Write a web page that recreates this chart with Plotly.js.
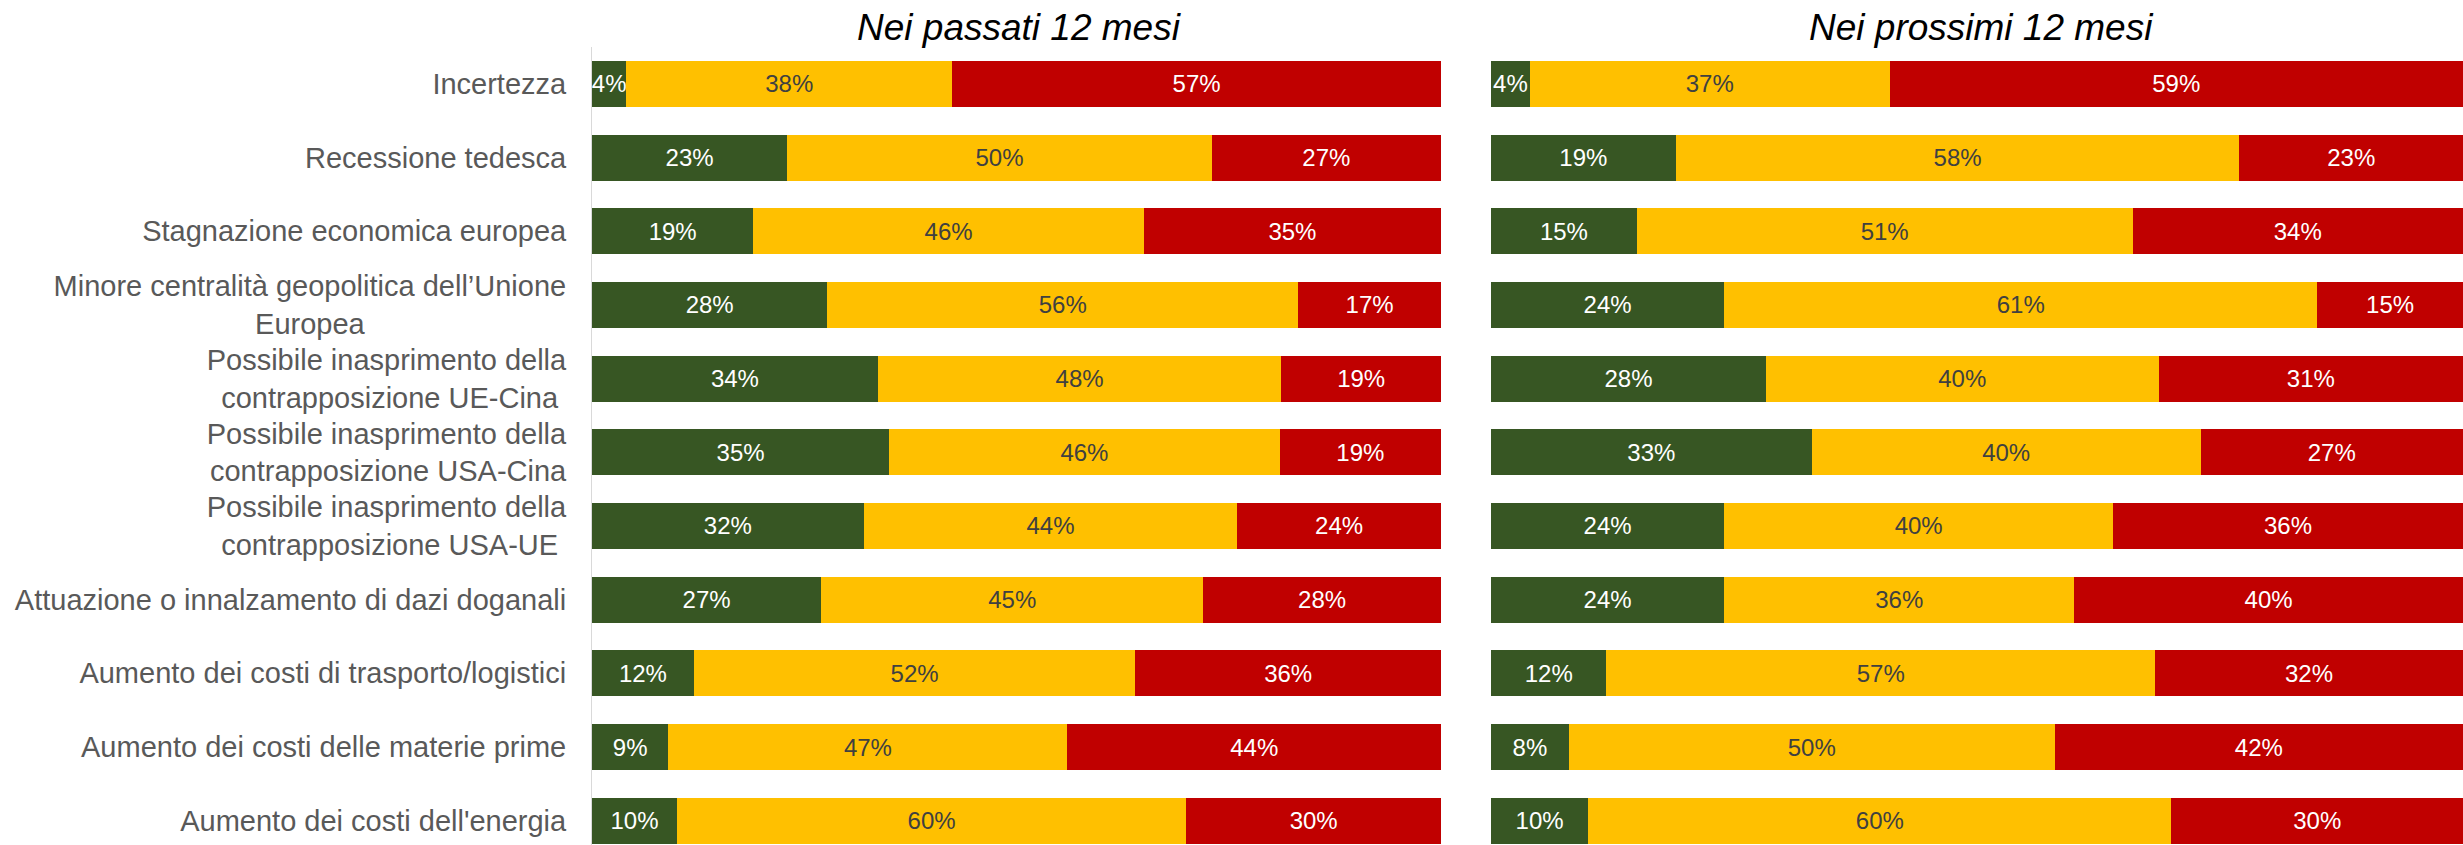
<!DOCTYPE html>
<html>
<head>
<meta charset="utf-8">
<script src="https://cdn.plot.ly/plotly-3.0.1.min.js"></script>
<style>
  html, body { margin: 0; padding: 0; background: #ffffff; }
  #chart { width: 2463px; height: 845px; }
</style>
</head>
<body>
<div id="chart"></div>
<script>
// ---- Data ----
const categories = [
  "Incertezza",
  "Recessione tedesca",
  "Stagnazione economica europea",
  "Minore centralità geopolitica dell’Unione<br>Europea",
  "Possibile inasprimento della<br>contrapposizione UE-Cina",
  "Possibile inasprimento della<br>contrapposizione USA-Cina",
  "Possibile inasprimento della<br>contrapposizione USA-UE",
  "Attuazione o innalzamento di dazi doganali",
  "Aumento dei costi di trasporto/logistici",
  "Aumento dei costi delle materie prime",
  "Aumento dei costi dell'energia"
];

const panelTitles = ["Nei passati 12 mesi", "Nei prossimi 12 mesi"];
const seriesNames = ["Impatto basso", "Impatto medio", "Impatto alto"];

const pastGreen  = [4, 23, 19, 28, 34, 35, 32, 27, 12, 9, 10];
const pastYellow = [38, 50, 46, 56, 48, 46, 44, 45, 52, 47, 60];
const pastRed    = [57, 27, 35, 17, 19, 19, 24, 28, 36, 44, 30];

const nextGreen  = [4, 19, 15, 24, 28, 33, 24, 24, 12, 8, 10];
const nextYellow = [37, 58, 51, 61, 40, 40, 40, 36, 57, 50, 60];
const nextRed    = [59, 23, 34, 15, 31, 27, 36, 40, 32, 42, 30];

// ---- Styling ----
const FONT = "'Liberation Sans', Arial, sans-serif";
const colors = ["#375623", "#FFC000", "#C00000"];
const textColors = ["#ffffff", "#404040", "#ffffff"];
const LABEL_SIZE = 29;

// center shorter lines of multi-line tick labels (like centered text in the original)
function centerLines(label) {
  const ctx = document.createElement('canvas').getContext('2d');
  ctx.font = LABEL_SIZE + "px 'Liberation Sans', Arial, sans-serif";
  const lines = label.split('<br>');
  if (lines.length < 2) return label;
  const ws = lines.map(l => ctx.measureText(l).width);
  const max = Math.max(...ws);
  const sp = ctx.measureText('\u00a0').width;
  return lines.map((l, i) => l + '\u00a0'.repeat(Math.round((max - ws[i]) / 2 / sp))).join('<br>');
}
const tickText = categories.map(centerLines);

function makeTrace(values, idx, xaxis) {
  return {
    type: 'bar',
    orientation: 'h',
    name: seriesNames[idx],
    y: categories,
    x: values,
    xaxis: xaxis,
    yaxis: 'y',
    text: values,
    texttemplate: '%{text}%',
    textposition: 'inside',
    insidetextanchor: 'middle',
    constraintext: 'none',
    textangle: 0,
    insidetextfont: { family: FONT, size: 24, color: textColors[idx] },
    marker: { color: colors[idx], line: { width: 0 } },
    hoverinfo: 'none',
    showlegend: false
  };
}

const data = [
  makeTrace(pastGreen, 0, 'x'),
  makeTrace(pastYellow, 1, 'x'),
  makeTrace(pastRed, 2, 'x'),
  makeTrace(nextGreen, 0, 'x2'),
  makeTrace(nextYellow, 1, 'x2'),
  makeTrace(nextRed, 2, 'x2')
];

const W = 2463;
const xBase = {
  range: [0, 100],
  showgrid: false,
  zeroline: false,
  showticklabels: false,
  showline: false,
  ticks: '',
  fixedrange: true,
  anchor: 'y'
};

const layout = {
  width: 2463,
  height: 845,
  margin: { l: 0, r: 0, t: 47, b: 0, pad: 0 },
  paper_bgcolor: '#ffffff',
  plot_bgcolor: '#ffffff',
  font: { family: FONT, color: '#595959' },
  barmode: 'stack',
  barnorm: 'percent',
  bargap: 0.376,
  showlegend: false,
  xaxis: Object.assign({}, xBase, { domain: [592 / W, 1441 / W] }),
  xaxis2: Object.assign({}, xBase, { domain: [1491 / W, 1] }),
  yaxis: {
    type: 'category',
    categoryorder: 'array',
    categoryarray: categories,
    range: [10.33, -0.5],
    tickmode: 'array',
    tickvals: categories,
    ticktext: tickText,
    tickfont: { family: FONT, size: LABEL_SIZE, color: '#595959' },
    ticks: '',
    ticklabelstandoff: 19,
    showline: true,
    linecolor: '#d9d9d9',
    linewidth: 1,
    showgrid: false,
    zeroline: false,
    fixedrange: true
  },
  annotations: [
    {
      text: panelTitles[0], xref: 'x domain', yref: 'paper', x: 0.5, y: 1.025,
      xanchor: 'center', yanchor: 'middle', xshift: 3, showarrow: false,
      font: { family: FONT, size: 37, color: '#000000', style: 'italic' }
    },
    {
      text: panelTitles[1], xref: 'x2 domain', yref: 'paper', x: 0.5, y: 1.025,
      xanchor: 'center', yanchor: 'middle', xshift: 4, showarrow: false,
      font: { family: FONT, size: 37, color: '#000000', style: 'italic' }
    }
  ]
};

Plotly.newPlot('chart', data, layout, { staticPlot: true, displayModeBar: false });
</script>
</body>
</html>
